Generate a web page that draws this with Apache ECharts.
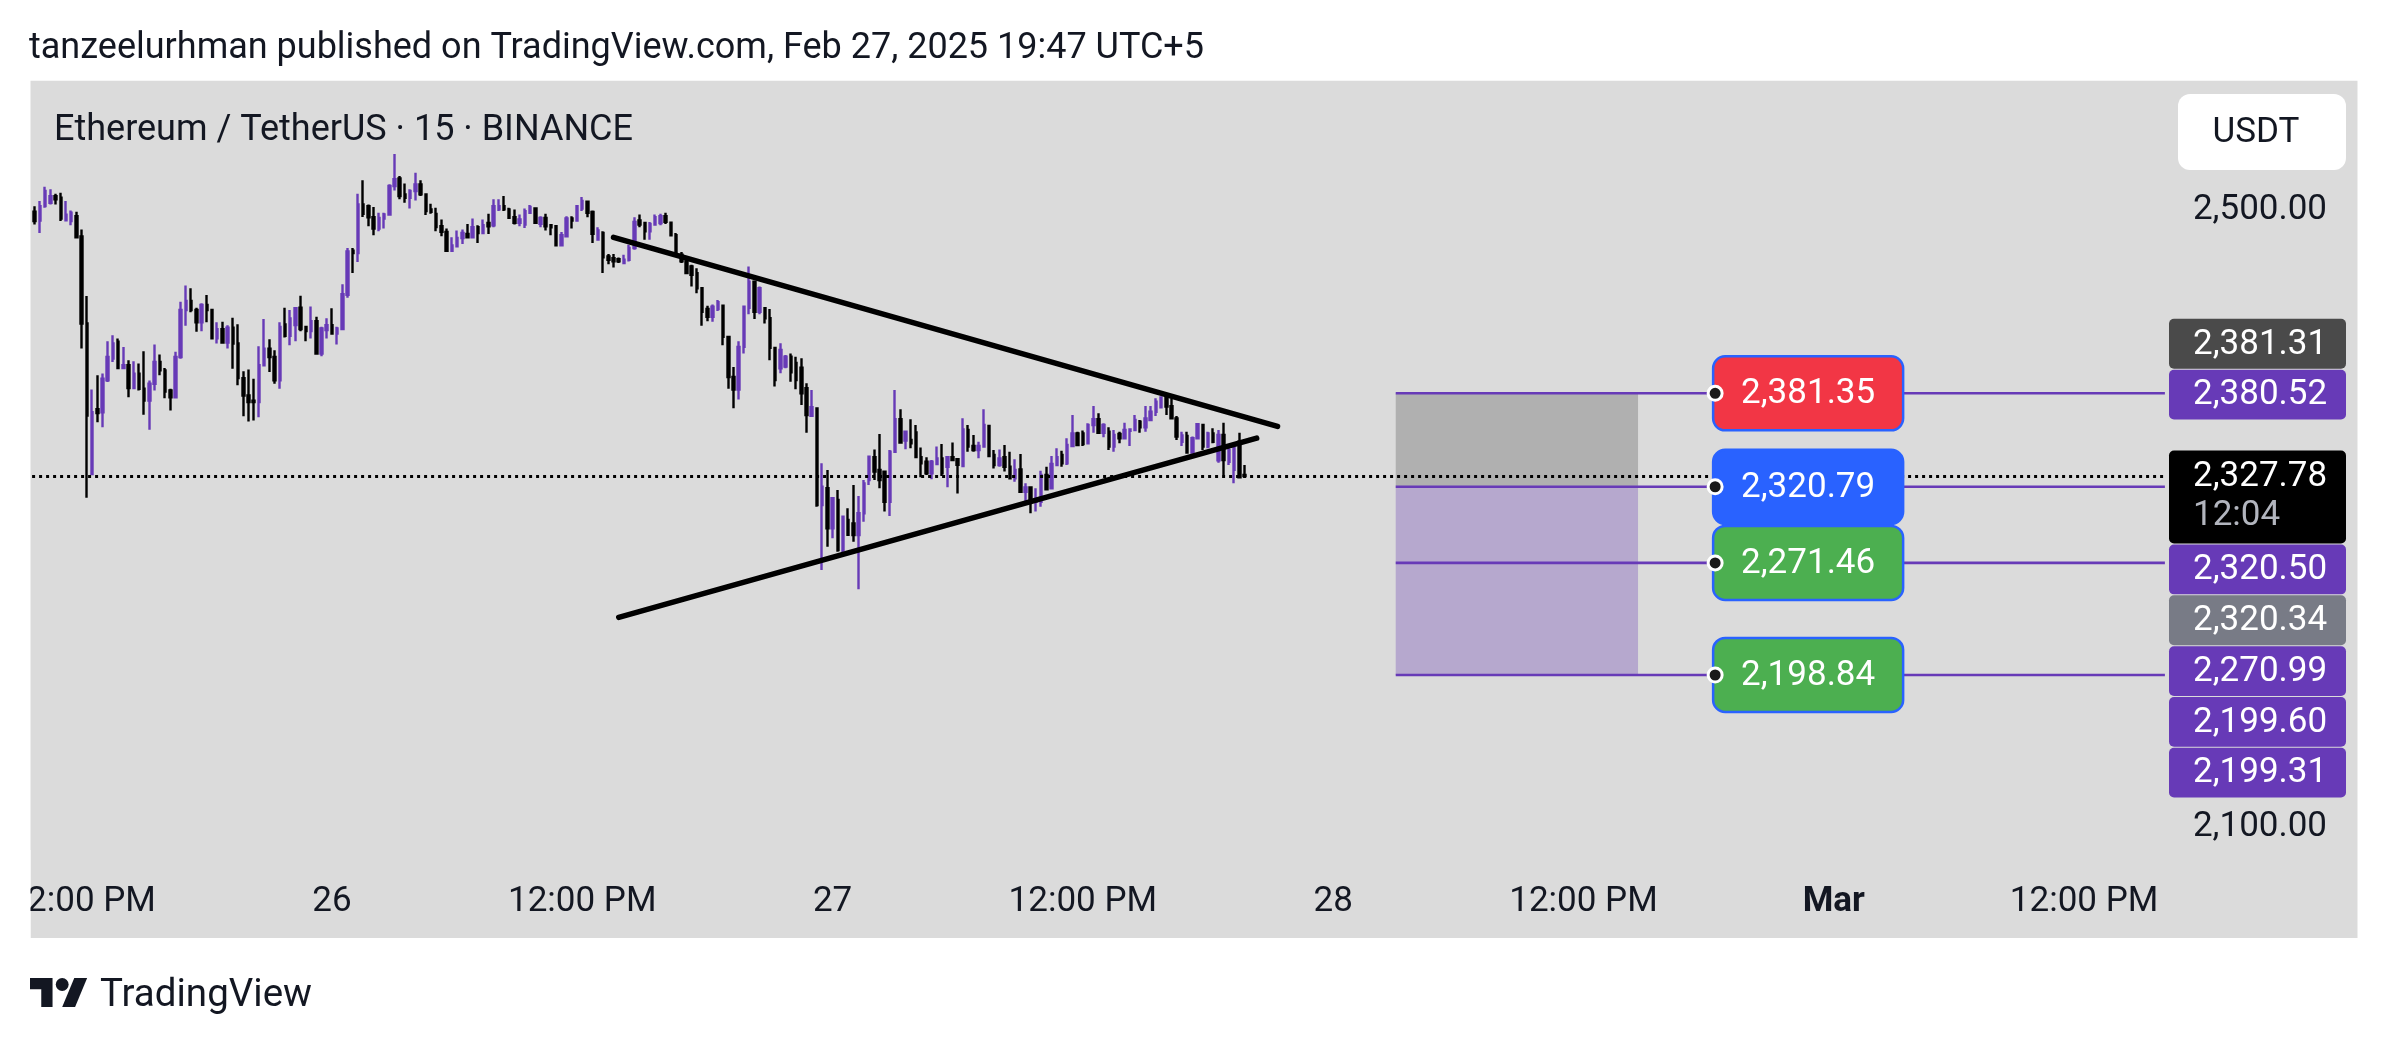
<!DOCTYPE html>
<html><head><meta charset="utf-8">
<script src="https://cdn.jsdelivr.net/npm/echarts@6/dist/echarts.min.js"></script>
<style>html,body{margin:0;padding:0;background:#fff}#c{width:2388px;height:1044px}</style>
</head><body><div id="c"></div>
<script>
// ---------- data ----------
const headerText = 'tanzeelurhman published on TradingView.com, Feb 27, 2025 19:47 UTC+5';
const symbolText = 'Ethereum / TetherUS \u00b7 15 \u00b7 BINANCE';
const startTime = '2025-02-25 09:45';   // first 15-minute bar
const slotCount = 409;                   // 15-minute slots on the time axis
// candles: [open, high, low, close]
const ohlc = [
[2499,2502.6,2490.7,2493],[2493.3,2505.9,2485.2,2502.6],[2502.6,2515.2,2501.5,2512.4],[2504.8,2513.5,2503.7,2509.1],
[2509.1,2510.7,2503.7,2507.0],[2508,2511.3,2492.9,2494.6],[2493.5,2505.9,2492.9,2497],[2492.9,2499.8,2490.2,2498.3],
[2496.1,2498.9,2481.6,2482.4],[2483.0,2487.4,2410.3,2426.6],[2426.6,2444.4,2313.7,2366.9],[2329,2383.8,2328.3,2369.1],
[2371,2393,2362.6,2368.5],[2369,2394.1,2359.3,2390.8],[2389.7,2415.1,2388.6,2404.9],[2403.8,2419.0,2401.7,2413.6],
[2414.7,2416.9,2397.3,2397.7],[2397.7,2411.4,2397.3,2399.5],[2399.5,2402.7,2378.8,2384.7],[2384.7,2402.1,2384.3,2394.0],
[2394.0,2400.6,2383.2,2384.3],[2384.3,2408.6,2367.4,2376.7],[2376.7,2389.7,2357.8,2387.5],[2387.5,2412.9,2383.2,2401.7],
[2401.7,2406.4,2393,2396.2],[2396.2,2397.7,2378.2,2382.5],[2383.2,2384.3,2370.2,2378.8],[2378.8,2408.2,2378.6,2404.9],
[2404.9,2440.7,2403.8,2435.3],[2435.3,2451.2,2425.1,2441.2],[2441.2,2449.4,2433.8,2435.3],[2435.3,2436.8,2421.2,2427.3],
[2427.3,2439.7,2421.6,2438.6],[2438.6,2445.1,2427.3,2435.3],[2435.3,2436,2416.4,2416.9],[2416.9,2427.3,2413.6,2422.9],
[2422.9,2427.7,2413.6,2414.3],[2414.3,2425.5,2410.3,2423.8],[2423.8,2430.3,2397.3,2413.6],[2413.6,2426.0,2386.5,2391.2],
[2391.2,2395.6,2366.5,2379.9],[2379.9,2396.7,2363.0,2375.6],[2376.5,2390.8,2363.7,2375.6],[2375.6,2411.9,2365.8,2399.5],
[2399.5,2429.4,2399.2,2410.3],[2410.3,2416.4,2395.1,2404.9],[2404.9,2409.2,2387.5,2389.7],[2389.7,2427.3,2384.3,2424.4],
[2425.9,2436.8,2417.5,2418.6],[2418.6,2435.3,2412.5,2429.9],[2425.5,2436.8,2415.1,2436.4],[2436.8,2444.6,2421.6,2422.9],
[2424.4,2425.1,2415.1,2421.6],[2421.6,2437.5,2416.9,2428.1],[2428.1,2430.9,2406.4,2407.1],[2407.1,2424.4,2405.3,2423.4],
[2422.3,2429.9,2416.9,2425.5],[2425.5,2436.4,2419.5,2420.1],[2420.1,2424.4,2413,2423.4],[2422.9,2452.0,2422.5,2445.5],
[2445.1,2475.5,2443.3,2473.3],[2473.7,2475.5,2459.2,2472.2],[2472.2,2510.7,2466.4,2503.7],[2503.7,2519.3,2495.5,2497.6],
[2502.6,2503.7,2489.6,2495.4],[2495.4,2502,2483.7,2488.1],[2488.1,2498.3,2486.3,2495.0],[2494.6,2498.3,2488.1,2497.2],
[2497.2,2516.7,2496.8,2515.6],[2515.6,2536.3,2512.8,2520.0],[2520.6,2522.2,2507,2509.1],[2510.2,2517.2,2504.8,2508.0],
[2508.0,2513.5,2501.1,2512.4],[2512.4,2524.3,2506.3,2516.7],[2516.7,2519.3,2509.1,2510.2],[2510.2,2510.6,2496.8,2499.4],
[2500.5,2504.1,2497.6,2498.9],[2497.6,2501.5,2486.3,2489.0],[2489.6,2493.9,2483.1,2485.9],[2485.9,2488.1,2473.2,2473.7],
[2473.7,2482.4,2473.2,2477.2],[2476.6,2486.8,2476.2,2482.0],[2482.0,2487.4,2478.1,2485.2],[2484.6,2491.1,2482.0,2482.4],
[2482.4,2494.6,2482.0,2488.9],[2488.9,2490.2,2478.7,2485.2],[2485.2,2493.9,2484.6,2490.2],[2491.7,2497.6,2484.6,2489.6],
[2490.2,2507.0,2489.0,2502.6],[2500.5,2507,2499.4,2502.6],[2502.6,2509.1,2499.4,2500.5],[2500.5,2501.5,2494.6,2495.0],
[2495.4,2500.5,2490.7,2491.8],[2491.8,2497.2,2489.6,2494.0],[2490.7,2501.1,2488.5,2499.4],[2498.3,2503.3,2497.6,2502.0],
[2501.1,2501.5,2491.1,2491.8],[2491.1,2496.1,2488.9,2495.0],[2495.0,2497.6,2486.8,2489.6],[2490.2,2491.1,2483.7,2488.9],
[2489.6,2490.2,2476.8,2477.2],[2477.2,2485.9,2476.8,2483.7],[2483.1,2496.1,2482.8,2494.6],[2494.6,2496.1,2488.1,2493.3],
[2493.3,2503.3,2492.9,2502.6],[2501.1,2508.5,2499.4,2505.9],[2505.4,2506.3,2495.4,2498.3],[2498.9,2499.8,2478.7,2484.6],
[2480.9,2488.9,2480.2,2486.8],[2485.2,2486.3,2459.2,2469.4],[2470.0,2471.6,2465.0,2467.9],[2468.9,2471.6,2462.9,2466.8],
[2468.3,2469.4,2465.7,2466.8],[2465.7,2471.1,2465.0,2467.9],[2467.9,2477.6,2466.8,2475.5],[2475.5,2495.4,2474.4,2492.4],
[2493.3,2497.2,2488.9,2490.7],[2491.7,2492.4,2480.9,2486.3],[2486.3,2492.4,2480.9,2491.1],[2490.7,2497.2,2490.2,2495.4],
[2491.7,2497.6,2490.2,2496.1],[2496.1,2498.3,2491.1,2492.4],[2491.8,2492.4,2483.1,2483.7],[2483.7,2485.2,2470.0,2471.1],
[2471.1,2472.9,2465.7,2466.8],[2466.8,2468.9,2458.5,2459.2],[2463.5,2464.6,2450.5,2458.1],[2459.2,2462.4,2446.2,2449.4],
[2449.4,2449.8,2425.1,2434.2],[2436.0,2438.1,2428.1,2430.9],[2430.9,2438.9,2427.7,2437.5],[2436.0,2441.8,2434.6,2440.3],
[2438.1,2438.6,2412.5,2417.9],[2417.9,2418.3,2384.3,2391.9],[2391.9,2398.4,2371.7,2383.8],[2383.8,2415.1,2377.3,2411.4],
[2411.4,2438.1,2407.1,2437.5],[2436.8,2463.5,2432.5,2453.7],[2453.7,2454.2,2429.4,2434.2],[2434.2,2450.5,2432.5,2449.4],
[2436.4,2436.8,2426.6,2429.9],[2430.0,2435.9,2402.7,2410.8],[2410.8,2411.0,2385.7,2390.0],[2397.5,2413.7,2394.3,2409.4],
[2398.6,2406.2,2397.5,2405.1],[2405.0,2407.2,2388.9,2395.0],[2401.0,2405.1,2383.9,2390.0],[2398.0,2404.0,2373.8,2381.3],
[2384.6,2387.8,2355.8,2367.3],[2366.7,2383.5,2366.2,2372.3],[2371.6,2372.3,2307.9,2309.0],[2309.0,2336.0,2266.9,2320.9],
[2319.8,2331.7,2282.0,2293.9],[2293.9,2313.8,2287.4,2313.3],[2312.2,2318.7,2278.7,2279.8],[2279.8,2301.9,2277.2,2301.4],
[2299.3,2306.8,2289.2,2289.6],[2297.0,2321.9,2285.2,2289.5],[2289.5,2314.8,2254.4,2303.6],[2303.6,2325.2,2298.2,2323.0],
[2325.2,2340.7,2321.9,2340.3],[2339.9,2345.0,2325.2,2330.6],[2331.7,2355.0,2319.8,2325.2],[2330.6,2331.0,2304.7,2311.1],
[2311.1,2344.6,2301.9,2343.5],[2343.5,2383.5,2342.9,2364.5],[2364.5,2371.0,2349.0,2349.4],[2350.7,2357.0,2345.1,2356.5],
[2351.1,2364.5,2345.7,2349.0],[2356.0,2360.8,2339.5,2340.0],[2340.0,2346.3,2326.9,2336.0],[2337.0,2339.9,2328.4,2329.5],
[2329.5,2338.1,2325.6,2337.0],[2335.5,2346.8,2334.9,2339.2],[2339.2,2348.5,2327.8,2329.5],[2333.8,2340.7,2320.4,2339.9],
[2339.9,2349.4,2337.7,2338.1],[2338.6,2339.2,2316.5,2335.0],[2334.2,2365.1,2333.8,2358.0],[2357.6,2360.8,2343.5,2346.8],
[2347.2,2354.3,2343.5,2344.6],[2344.6,2350.0,2339.2,2347.2],[2346.8,2371.0,2346.4,2360.8],[2360.2,2360.8,2340.3,2340.7],
[2341.4,2344.6,2332.7,2334.9],[2334.9,2345.0,2333.8,2339.2],[2339.9,2347.8,2330.6,2333.8],[2333.8,2343.5,2325.6,2326.3],
[2326.3,2338.6,2324.1,2331.7],[2332.0,2342.0,2317.2,2317.6],[2317.6,2323.0,2310.5,2320.4],[2320.4,2320.9,2303.6,2311.1],
[2311.1,2319.8,2304.7,2313.3],[2311.1,2331.2,2307.9,2328.4],[2328.4,2333.8,2318.7,2319.1],[2319.8,2340.7,2319.4,2335.5],
[2334.9,2345.7,2334.5,2339.9],[2341.4,2344.2,2333.8,2336.0],[2336.0,2352.2,2334.9,2347.8],[2347.2,2367.3,2346.8,2355.4],
[2355.4,2356.5,2347.2,2347.8],[2355.4,2357.2,2347.2,2348.5],[2348.9,2361.9,2348.5,2360.8],[2360.8,2373.1,2355.8,2364.5],
[2364.5,2368.4,2355.4,2355.8],[2355.8,2361.9,2352.8,2360.8],[2356.5,2359.3,2344.6,2346.8],[2346.8,2357.6,2343.5,2354.3],
[2355.0,2356.5,2349.0,2352.2],[2352.2,2362.3,2351.8,2357.6],[2357.0,2358.7,2347.2,2358.0],[2357.6,2367.3,2357.2,2364.0],
[2363.0,2364.0,2355.8,2359.3],[2359.3,2373.1,2356.5,2365.1],[2364.0,2373.1,2363.6,2369.4],[2369.4,2378.1,2366.6,2375.9],
[2372.3,2379.2,2371.6,2378.7],[2378.1,2379.2,2367.3,2372.7],[2373.0,2378.1,2364.7,2365.1],[2365.1,2366.6,2351.1,2353.3],
[2350.0,2356.5,2347.2,2354.0],[2353.7,2356.5,2342.4,2342.9],[2342.9,2353.3,2342.4,2352.2],[2352.2,2361.9,2351.8,2361.4],
[2360.8,2361.2,2344.6,2346.8],[2346.8,2356.5,2345.7,2355.4],[2355.4,2358.7,2349.0,2350.0],[2338.0,2357.6,2336.4,2354.3],
[2354.3,2362.3,2328.4,2338.1],[2337.0,2346.3,2334.9,2344.6],[2331.7,2346.3,2323.0,2345.7],[2350.0,2355.8,2326.9,2327.0],
[2328.4,2334.9,2326.9,2327.78]
];
const lastPrice = 2327.78;
const countdown = '12:04';
const yTickLabels = [2500, 2100];
const timeLabelHours = ['00:00', '12:00'];
const monthNames = ['Jan','Feb','Mar','Apr','May','Jun','Jul','Aug','Sep','Oct','Nov','Dec'];
// trend lines: [time, price]
const upperTrend = [['2025-02-26 13:30', 2482.4], ['2025-02-27 21:20', 2359.9]];
const lowerTrend = [['2025-02-26 13:45', 2236.2], ['2025-02-27 20:20', 2352.3]];
// position tool
const positionLevels = [2381.35, 2320.79, 2271.46, 2198.84];
const positionStart = '2025-02-28 03:00';
const positionEnd = '2025-02-28 14:37';
const positionLabelAt = '2025-02-28 18:13';
// price-scale tags
const tagValues = [2381.31, 2380.52, 2320.50, 2320.34, 2270.99, 2199.60, 2199.31];

// ---------- styles ----------
const UP = '#673ab7', DOWN = '#000000', TXT = '#131722', FONT = 'Roboto';
const tagColors = ['#4a4a4a', '#673ab7', '#673ab7', '#787b86', '#673ab7', '#673ab7', '#673ab7'];
const tagAnchored = [false, true, false, false, false, false, false];
const levelColors = ['#f23645', '#2962ff', '#4caf50', '#4caf50'];

// ---------- helpers ----------
function parseT(s) { const [d, t] = s.split(' '); const [Y, M, D] = d.split('-').map(Number); const [h, m] = t.split(':').map(Number); return Date.UTC(Y, M - 1, D, h, m); }
const SLOT = 15 * 60 * 1000;
const T0 = parseT(startTime);
const pad = n => String(n).padStart(2, '0');
const categories = [];
for (let i = 0; i < slotCount; i++) {
  const d = new Date(T0 + i * SLOT);
  categories.push(d.getUTCFullYear() + '-' + pad(d.getUTCMonth() + 1) + '-' + pad(d.getUTCDate()) + ' ' + pad(d.getUTCHours()) + ':' + pad(d.getUTCMinutes()));
}
const idxOf = s => (parseT(s) - T0) / SLOT;
const fmtPrice = v => v.toLocaleString('en-US', { minimumFractionDigits: 2, maximumFractionDigits: 2 });
const candleData = ohlc.map(r => [r[0], r[3], r[2], r[1]]);

const chart = echarts.init(document.getElementById('c'), null, { renderer: 'canvas' });

const zoneData = [
  [{ coord: [idxOf(positionStart), positionLevels[0]], itemStyle: { color: '#b0b0b0' } }, { coord: [idxOf(positionEnd), positionLevels[1]] }],
  [{ coord: [idxOf(positionStart), positionLevels[1]], itemStyle: { color: '#b6a8ce' } }, { coord: [idxOf(positionEnd), positionLevels[3]] }]
];

const series = [
  {
    type: 'line', xAxisIndex: 1, yAxisIndex: 0, z: 1, silent: true, symbol: 'none',
    lineStyle: { opacity: 0 }, data: [[idxOf(positionStart), positionLevels[3]]],
    markArea: { silent: true, data: zoneData }
  },
  {
    type: 'candlestick', xAxisIndex: 0, yAxisIndex: 0, z: 2, data: candleData,
    barWidth: 2,
    itemStyle: { color: UP, color0: DOWN, borderColor: UP, borderColor0: DOWN, borderWidth: 2.4 }
  },
  {
    // last-price dotted line, drawn above the position-tool labels
    type: 'line', xAxisIndex: 1, yAxisIndex: 0, z: 200, silent: true, symbol: 'none',
    lineStyle: { opacity: 0 }, data: [[0, lastPrice]],
    markLine: {
      silent: true, symbol: 'none', label: { show: false },
      lineStyle: { color: '#000', width: 3, type: [3, 4] },
      data: [{ yAxis: lastPrice }]
    }
  }
];
positionLevels.forEach(v => {
  series.push({
    type: 'line', xAxisIndex: 1, yAxisIndex: 0, z: 3, silent: true, symbol: 'none',
    lineStyle: { color: '#673ab7', width: 2.6 },
    data: [[idxOf(positionStart), v], [slotCount - 0.5, v]]
  });
});
[upperTrend, lowerTrend].forEach(tl => {
  series.push({
    type: 'line', xAxisIndex: 1, yAxisIndex: 0, z: 4, silent: true, symbol: 'none',
    lineStyle: { color: '#000', width: 5.5, cap: 'round' },
    data: tl.map(p => [idxOf(p[0]), p[1]])
  });
});

const option = {
  animation: false,
  backgroundColor: '#ffffff',
  grid: { left: 32.09, right: 223.1, top: 55.8, bottom: 62.1 },
  xAxis: [
    {
      type: 'category', data: categories, boundaryGap: true, offset: -105,
      axisLine: { show: false }, axisTick: { show: false }, splitLine: { show: false },
      axisLabel: {
        margin: 8, fontSize: 35, fontFamily: FONT, color: TXT,
        interval: (i, v) => timeLabelHours.includes(v.slice(11)),
        formatter: v => {
          const hm = v.slice(11);
          if (hm === '12:00') return '12:00 PM';
          const day = Number(v.slice(8, 10));
          if (day === 1) return '{b|' + monthNames[Number(v.slice(5, 7)) - 1] + '}';
          return String(day);
        },
        rich: { b: { fontWeight: 'bold', fontSize: 35, fontFamily: FONT, color: TXT } }
      }
    },
    { type: 'value', min: -0.5, max: slotCount - 0.5, show: false, position: 'top' }
  ],
  yAxis: {
    type: 'value', position: 'right', min: 2000, max: 2600, interval: 100,
    axisLine: { show: false }, axisTick: { show: false }, splitLine: { show: false },
    axisLabel: {
      margin: 28, fontSize: 35, fontFamily: FONT, color: TXT,
      formatter: v => yTickLabels.includes(v) ? fmtPrice(v) : ''
    }
  },
  series
};
chart.setOption(option);

// ---------- overlays computed through the axes ----------
const yPx = v => chart.convertToPixel({ yAxisIndex: 0 }, v);
const xPx = t => chart.convertToPixel({ xAxisIndex: 1 }, idxOf(t));
const txt = (text, x, y, size, fill, align, extra) => Object.assign({
  type: 'text', z: 100, silent: true,
  style: { text, x, y, fontSize: size, fontFamily: FONT, fill, textAlign: align, textVerticalAlign: 'middle', align, verticalAlign: 'middle' }
}, extra || {});
const els = [];
els.push({ type: 'rect', z: -10, silent: true, shape: { x: 30.5, y: 80.7, width: 2327, height: 857.3 }, style: { fill: '#dbdbdb' } });
els.push(txt(headerText, 29, 49, 36, TXT, 'left'));
els.push(txt(symbolText, 54, 131, 36, TXT, 'left'));
// clip the partially visible first time label at the pane edge
els.push({ type: 'rect', z: 90, silent: true, shape: { x: 0, y: 850, width: 30.5, height: 88 }, style: { fill: '#ffffff' } });
// USDT box
els.push({ type: 'rect', z: 100, silent: true, shape: { x: 2178, y: 94, width: 168, height: 76, r: 12 }, style: { fill: '#ffffff' } });
els.push(txt('USDT', 2256, 133, 35, TXT, 'center', { z: 101 }));
// footer logo + wordmark
const LS = 1.61, LX = 30, LY = 971.6;
const lp = pts => pts.map(p => [LX + p[0] * LS, LY + p[1] * LS]);
els.push({ type: 'polygon', z: 100, silent: true, shape: { points: lp([[14,22],[7,22],[7,11],[0,11],[0,4],[14,4]]) }, style: { fill: TXT } });
els.push({ type: 'polygon', z: 100, silent: true, shape: { points: lp([[28,22],[20,22],[27.5,4],[35.5,4]]) }, style: { fill: TXT } });
els.push({ type: 'circle', z: 100, silent: true, shape: { cx: LX + 20 * LS, cy: LY + 8 * LS, r: 4 * LS }, style: { fill: TXT } });
els.push(txt('TradingView', 100, 996, 38.5, TXT, 'left'));

// position tool labels
const boxLeft = xPx(positionLabelAt), boxW = 190, boxH = 74;
positionLevels.forEach((v, k) => {
  const y = yPx(v);
  els.push({ type: 'rect', z: 110, silent: true, shape: { x: boxLeft, y: y - boxH / 2, width: boxW, height: boxH, r: 12 }, style: { fill: levelColors[k], stroke: '#2962ff', lineWidth: 2.5 } });
  els.push(txt(fmtPrice(v), boxLeft + boxW / 2, y + 1, 35, '#ffffff', 'center', { z: 111 }));
  els.push({ type: 'circle', z: 112, silent: true, shape: { cx: boxLeft + 2, cy: y, r: 7 }, style: { fill: '#1a1a1a', stroke: '#ffffff', lineWidth: 3 } });
});

// price-scale tags with TradingView-like stacking
const tagH = 49.8, gap = 1, lastH = 93, lastOff = 25.4, tagX = 2169, tagW = 177;
const items = tagValues.map((v, k) => ({ v, color: tagColors[k], anchored: tagAnchored[k], h: tagH, off: tagH / 2, last: false }));
items.push({ v: lastPrice, color: '#000000', anchored: true, h: lastH, off: lastOff, last: true });
items.sort((a, b) => b.v - a.v);
let cursor = -1e9;
items.forEach(it => {
  const desired = yPx(it.v) - it.off;
  it.top = it.anchored ? desired : Math.max(desired, cursor);
  cursor = it.top + it.h + gap;
});
for (let k = items.length - 2; k >= 0; k--) {
  const it = items[k], nx = items[k + 1];
  if (!it.anchored && it.top + it.h + gap > nx.top) it.top = nx.top - gap - it.h;
}
items.forEach(it => {
  els.push({ type: 'rect', z: 120, silent: true, shape: { x: tagX, y: it.top, width: tagW, height: it.h, r: 5 }, style: { fill: it.color } });
  els.push(txt(fmtPrice(it.v), 2193, it.top + it.off + 1, 35, '#ffffff', 'left', { z: 121 }));
  if (it.last) els.push(txt(countdown, 2193, it.top + 66, 35, '#b2b5be', 'left', { z: 121 }));
});
chart.setOption({ graphic: { elements: els } });
</script>
</body></html>
